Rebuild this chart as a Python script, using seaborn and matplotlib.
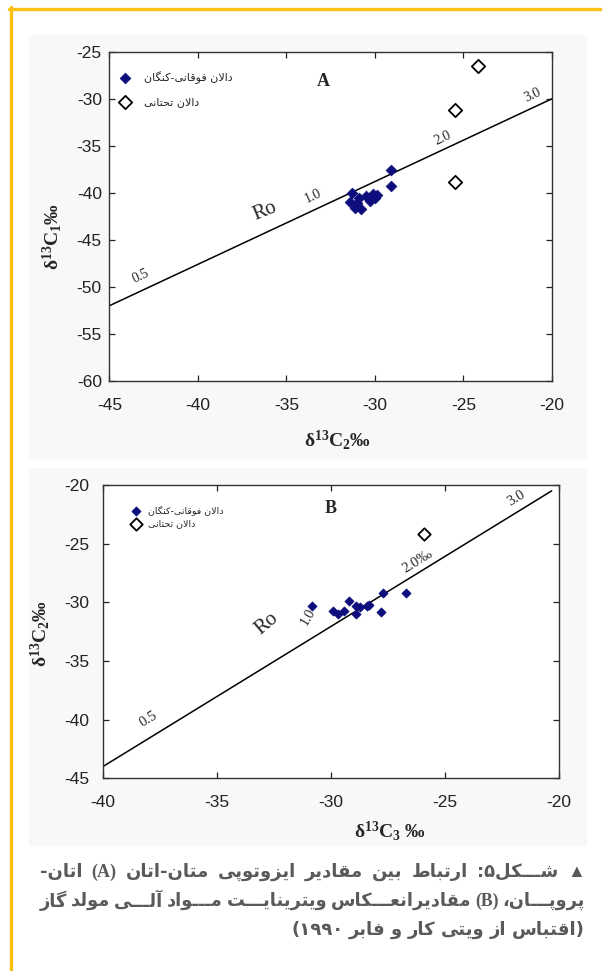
import re
import numpy as np
import pandas as pd
import seaborn as sns
import matplotlib.pyplot as plt
from matplotlib.lines import Line2D
from matplotlib.patches import Rectangle

# ---- data ----
# panel A : d13C2 (x) vs d13C1 (y)
a_upper_x = [-31.3, -31.4, -31.1, -30.9, -31.0, -30.8, -30.5, -30.3, -30.1, -30.0, -29.9, -29.1, -29.1]
a_upper_y = [-40.0, -41.0, -41.6, -40.5, -41.1, -41.7, -40.3, -40.9, -40.1, -40.6, -40.2, -37.6, -39.3]
a_lower_x = [-24.2, -25.5, -25.5]
a_lower_y = [-26.5, -31.2, -38.8]
a_ro_x = [-45, -20]
a_ro_y = [-52, -30]
a_ro_text = ["0.5", "1.0", "2.0", "3.0"]
a_ro_text_x = [-43.2, -33.5, -26.2, -21.1]
a_ro_text_y = [-48.9, -40.4, -34.2, -29.6]
a_xticks = [-45, -40, -35, -30, -25, -20]
a_yticks = [-60, -55, -50, -45, -40, -35, -30, -25]

# panel B : d13C3 (x) vs d13C2 (y)
b_upper_x = [-30.8, -29.9, -29.7, -29.4, -29.2, -28.9, -28.7, -28.9, -28.4, -28.3, -27.8, -27.7, -26.7]
b_upper_y = [-30.3, -30.7, -31.0, -30.7, -29.9, -30.3, -30.4, -31.0, -30.3, -30.2, -30.8, -29.2, -29.2]
b_lower_x = [-25.9]
b_lower_y = [-24.2]
b_ro_x = [-40, -20.3]
b_ro_y = [-44, -20.5]
b_ro_text = ["0.5", "2.0‰", "3.0"]
b_ro_text_x = [-38.0, -26.2, -21.85]
b_ro_text_y = [-40.0, -26.5, -21.1]
b_xticks = [-40, -35, -30, -25, -20]
b_yticks = [-45, -40, -35, -30, -25, -20]

legend_upper = "دالان فوقانی-کنگان"
legend_lower = "دالان تحتانی"
caption = ["▲ شـــکل۵: ارتباط بین مقادیر ایزوتوپی متان-اتان (A) اتان-",
           "پروپـــان، (B) مقادیرانعـــکاس ویترینایـــت مـــواد آلـــی مولد گاز",
           "(اقتباس از ویتی کار و فابر ۱۹۹۰)"]

NAVY = "#0d0d7d"
GOLD = "#FDC012"
CAP_COLOR = "#5a5a5a"
W, H = 602, 971

# ---- minimal persian shaping (matplotlib draws glyphs left to right, no shaping) ----
FORMS = {
    'ا': ('\uFE8D', '\uFE8E', None, None), 'آ': ('\uFE81', '\uFE82', None, None),
    'ب': ('\uFE8F', '\uFE90', '\uFE91', '\uFE92'), 'پ': ('\uFB56', '\uFB57', '\uFB58', '\uFB59'),
    'ت': ('\uFE95', '\uFE96', '\uFE97', '\uFE98'), 'ح': ('\uFEA1', '\uFEA2', '\uFEA3', '\uFEA4'),
    'د': ('\uFEA9', '\uFEAA', None, None), 'ر': ('\uFEAD', '\uFEAE', None, None),
    'ز': ('\uFEAF', '\uFEB0', None, None), 'س': ('\uFEB1', '\uFEB2', '\uFEB3', '\uFEB4'),
    'ش': ('\uFEB5', '\uFEB6', '\uFEB7', '\uFEB8'), 'ط': ('\uFEC1', '\uFEC2', '\uFEC3', '\uFEC4'),
    'ع': ('\uFEC9', '\uFECA', '\uFECB', '\uFECC'), 'ف': ('\uFED1', '\uFED2', '\uFED3', '\uFED4'),
    'ق': ('\uFED5', '\uFED6', '\uFED7', '\uFED8'), 'ک': ('\uFB8E', '\uFB8F', '\uFB90', '\uFB91'),
    'گ': ('\uFB92', '\uFB93', '\uFB94', '\uFB95'), 'ل': ('\uFEDD', '\uFEDE', '\uFEDF', '\uFEE0'),
    'م': ('\uFEE1', '\uFEE2', '\uFEE3', '\uFEE4'), 'ن': ('\uFEE5', '\uFEE6', '\uFEE7', '\uFEE8'),
    'و': ('\uFEED', '\uFEEE', None, None), 'ی': ('\uFBFC', '\uFBFD', '\uFBFE', '\uFBFF'),
    'ـ': ('\u0640', '\u0640', '\u0640', '\u0640'),
}
MIRROR = {'(': ')', ')': '('}


def joins_next(ch):
    f = FORMS.get(ch)
    return f is not None and f[2] is not None


def shape(word):
    out, i = [], 0
    while i < len(word):
        ch = word[i]
        if ch not in FORMS:
            out.append(ch)
            i += 1
            continue
        p = i > 0 and joins_next(word[i - 1])
        if ch == 'ل' and i + 1 < len(word) and word[i + 1] == 'ا':
            out.append('\uFEFC' if p else '\uFEFB')
            i += 2
            continue
        q = joins_next(ch) and i + 1 < len(word) and word[i + 1] in FORMS
        iso, fin, ini, med = FORMS[ch]
        out.append(med if (p and q) else fin if p else ini if q else iso)
        i += 1
    return ''.join(out)


def rtl_tokens(text):
    res = []
    for tok in reversed(text.split(' ')):
        if any('\u0600' <= c <= '\u06FF' for c in tok):
            runs = re.findall(r'[۰-۹0-9]+|[^۰-۹0-9]+', shape(tok))
            vis = ''
            for r in reversed(runs):
                vis += r if r[0] in '۰۱۲۳۴۵۶۷۸۹0123456789' else ''.join(MIRROR.get(c, c) for c in reversed(r))
            res.append((vis, 'fa'))
        else:
            res.append((tok, 'lat'))
    return res


def rtl(text):
    return ' '.join(t for t, _ in rtl_tokens(text))


# ---- style ----
sns.set_style("ticks")
plt.rcParams['font.family'] = ['Liberation Sans', 'DejaVu Sans']
plt.rcParams['axes.unicode_minus'] = False
plt.rcParams['mathtext.fontset'] = 'custom'
plt.rcParams['mathtext.rm'] = 'Liberation Serif'
plt.rcParams['mathtext.it'] = 'Liberation Serif:italic'
plt.rcParams['mathtext.bf'] = 'Liberation Serif:bold'

fig = plt.figure(figsize=(W / 100, H / 100), dpi=100)

# faint scanned-panel background and gold frame
for top, bot in [(35, 458), (468, 845)]:
    fig.add_artist(Rectangle((29 / W, 1 - bot / H), (586 - 29) / W, (bot - top) / H,
                             transform=fig.transFigure, color='#f8f8f8', zorder=-10))
fig.add_artist(Line2D([10.5 / W, 10.5 / W], [0, 1 - 7.5 / H], transform=fig.transFigure, color=GOLD, lw=2.4))
fig.add_artist(Line2D([9.3 / W, 1], [1 - 8.6 / H, 1 - 8.6 / H], transform=fig.transFigure, color=GOLD, lw=2.4))

axA = fig.add_axes([109.4 / W, 1 - 381 / H, (552 - 109.4) / W, (381 - 51.7) / H])
axB = fig.add_axes([102.9 / W, 1 - 778.3 / H, (558.5 - 102.9) / W, (778.3 - 485) / H])


def draw_panel(ax, ux, uy, lx, ly, rx, ry, xlim, ylim, xt, yt, s_up, s_low, ypad):
    sns.lineplot(x=rx, y=ry, ax=ax, color='black', lw=1.1, zorder=2)
    sns.scatterplot(x=ux, y=uy, ax=ax, marker='D', s=s_up, color=NAVY, edgecolor=NAVY,
                    linewidth=0.5, label=rtl(legend_upper), zorder=3)
    sns.scatterplot(x=lx, y=ly, ax=ax, marker='D', s=s_low, color='white', edgecolor='black',
                    linewidth=1.3, label=rtl(legend_lower), zorder=3)
    ax.set_xlim(*xlim)
    ax.set_ylim(*ylim)
    ax.set_xticks(xt)
    ax.set_yticks(yt)
    ax.set_xlabel('')
    ax.set_ylabel('')
    ax.set_facecolor('white')
    ax.tick_params(direction='in', top=True, right=True, length=4, width=0.9,
                   labelsize=12.5, colors='#222222')
    ax.tick_params(axis='x', pad=12)
    ax.tick_params(axis='y', pad=ypad)
    for sp in ax.spines.values():
        sp.set_linewidth(1.0)
        sp.set_color('#333333')


def line_angle(ax, rx, ry):
    ang = np.degrees(np.arctan2(ry[1] - ry[0], rx[1] - rx[0]))
    return ax.transData.transform_angles(np.array([ang]), np.array([[rx[0], ry[0]]]))[0]


draw_panel(axA, a_upper_x, a_upper_y, a_lower_x, a_lower_y, a_ro_x, a_ro_y,
           (-45, -20), (-60, -25), a_xticks, a_yticks, 30, 46, 5.5)
draw_panel(axB, b_upper_x, b_upper_y, b_lower_x, b_lower_y, b_ro_x, b_ro_y,
           (-40, -20), (-45, -20), b_xticks, b_yticks, 22, 40, 10)

axA.legend(loc='upper left', bbox_to_anchor=(0.023, 0.94), frameon=False,
           prop={'family': 'DejaVu Sans', 'size': 8}, handlelength=1, handletextpad=1.2,
           labelspacing=1.15, borderpad=0, borderaxespad=0)
axB.legend(loc='upper left', bbox_to_anchor=(0.062, 0.93), frameon=False,
           prop={'family': 'DejaVu Sans', 'size': 6.8}, handlelength=1, handletextpad=0.8,
           labelspacing=0.4, borderpad=0, borderaxespad=0)

# Ro line annotations
rotA = line_angle(axA, a_ro_x, a_ro_y)
for t, x, y in zip(a_ro_text, a_ro_text_x, a_ro_text_y):
    axA.text(x, y, t, rotation=rotA, ha='center', va='center', family='Liberation Serif', fontsize=10)
axA.text(-36.2, -42.0, 'Ro', rotation=rotA - 3, ha='center', va='center', family='Liberation Serif', fontsize=15)
axA.text(-32.9, -28.2, 'A', ha='center', va='center', family='Liberation Serif', fontweight='bold', fontsize=13)

rotB = line_angle(axB, b_ro_x, b_ro_y)
for t, x, y in zip(b_ro_text, b_ro_text_x, b_ro_text_y):
    axB.text(x, y, t, rotation=rotB, ha='center', va='center', family=['Liberation Serif', 'DejaVu Sans'], fontsize=10.5)
axB.text(-32.8, -31.8, 'Ro', rotation=40, ha='center', va='center', family='Liberation Serif', fontsize=15)
axB.text(-31.0, -31.2, '1.0', rotation=60, ha='center', va='center', family='Liberation Serif', fontsize=10)
axB.text(-30.0, -22.0, 'B', ha='center', va='center', family='Liberation Serif', fontweight='bold', fontsize=13)

# axis titles
lab = dict(family=['Liberation Serif', 'DejaVu Serif'], fontweight='bold', fontsize=14, ha='center', va='center')
fig.text(338 / W, 1 - 440 / H, r'$\mathbf{\delta^{13}C_{2}}$‰', **lab)
fig.text(52 / W, 1 - 236 / H, r'$\mathbf{\delta^{13}C_{1}}$‰', rotation=90, **lab)
fig.text(390 / W, 1 - 831 / H, r'$\mathbf{\delta^{13}C_{3}}$ ‰', **lab)
fig.text(40 / W, 1 - 633 / H, r'$\mathbf{\delta^{13}C_{2}}$‰', rotation=90, **lab)

# caption, right to left, justified
renderer = fig.canvas.get_renderer()
L, R = 40, 585
cap_size = 13.0
for k, (line, ypx) in enumerate(zip(caption, [872, 901, 930])):
    texts = []
    for s, kind in rtl_tokens(line):
        fam = ['DejaVu Sans'] if kind == 'fa' else ['Liberation Serif', 'DejaVu Sans']
        texts.append(fig.text(0, 1 - ypx / H, s, fontsize=cap_size, fontweight='bold', color=CAP_COLOR,
                              family=fam, ha='left', va='center'))
    widths = [t.get_window_extent(renderer).width for t in texts]
    n_gap = len(texts) - 1
    if k < 2 and sum(widths) + 4 * n_gap > R - L:
        # shrink this line a little so the words do not touch
        f = (R - L - 4 * n_gap) / sum(widths)
        for t in texts:
            t.set_fontsize(cap_size * f)
        widths = [t.get_window_extent(renderer).width for t in texts]
    gap = (R - L - sum(widths)) / n_gap if k < 2 else 5.5
    x = R - sum(widths) - gap * n_gap
    for t, w in zip(texts, widths):
        t.set_x(x / W)
        x += w + gap

fig.savefig('out.png', dpi=100)
